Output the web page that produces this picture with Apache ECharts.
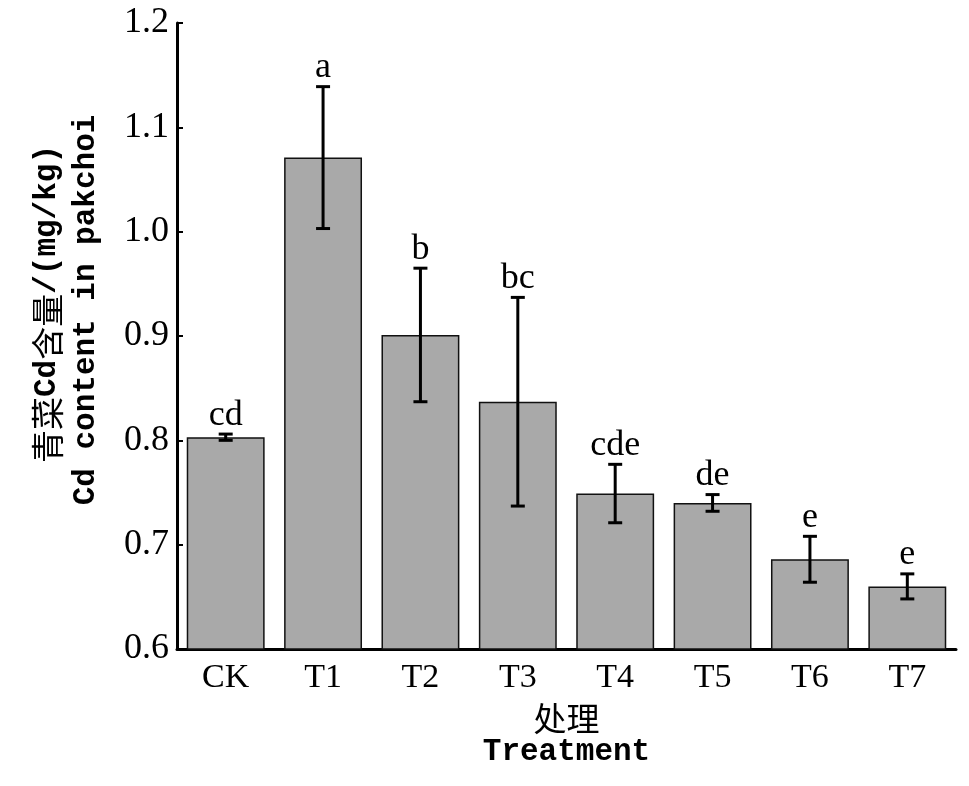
<!DOCTYPE html>
<html>
<head>
<meta charset="utf-8">
<script src="https://cdn.jsdelivr.net/npm/echarts@6/dist/echarts.min.js"></script>
<style>
html,body{margin:0;padding:0;background:#fff;}
#chart{width:969px;height:786px;}
</style>
</head>
<body>
<div id="chart"></div>
<script>
var categories = ['CK', 'T1', 'T2', 'T3', 'T4', 'T5', 'T6', 'T7'];
var means = [0.803, 1.071, 0.901, 0.837, 0.749, 0.740, 0.686, 0.660];
var errors = [0.003, 0.068, 0.064, 0.100, 0.028, 0.008, 0.022, 0.012];
var letters = ['cd', 'a', 'b', 'bc', 'cde', 'de', 'e', 'e'];
var yTitleParts = [['cn', '青菜'], ['en', 'Cd'], ['cn', '含量'], ['en', '/(mg/kg)']];
var yTitleEn = 'Cd content in pakchoi';
var xTitleCn = '处理';
var xTitleEn = 'Treatment';

var serif = '"Liberation Serif", "Times New Roman", serif';
var mono = '"Liberation Mono", monospace';
var cjk = '"Noto Sans CJK SC", sans-serif';

var richStyles = {
  cn: { fontFamily: cjk, fontSize: 33, fontWeight: 'normal', color: '#000', fill: '#000' },
  en: { fontFamily: mono, fontSize: 31, fontWeight: 'bold', color: '#000', fill: '#000' }
};
var yTitleCn = yTitleParts.map(function (p) { return '{' + p[0] + '|' + p[1] + '}'; }).join('');

var errData = categories.map(function (c, i) { return [i, means[i], errors[i], letters[i]]; });

var chart = echarts.init(document.getElementById('chart'));
chart.setOption({
  backgroundColor: '#fff',
  animation: false,
  grid: { left: 177, right: 13, top: 23, bottom: 137 },
  xAxis: {
    type: 'category',
    data: categories,
    name: '{cn|' + xTitleCn + '}\n{en|' + xTitleEn + '}',
    nameLocation: 'middle',
    nameGap: 52,
    nameTextStyle: {
      color: '#000', lineHeight: 34,
      rich: {
        cn: { fontFamily: cjk, fontSize: 33, color: '#000', lineHeight: 34 },
        en: { fontFamily: mono, fontSize: 31, fontWeight: 'bold', color: '#000', lineHeight: 34 }
      }
    },
    axisLine: { lineStyle: { color: '#000', width: 3 } },
    axisTick: { inside: true, length: 5, lineStyle: { color: '#000', width: 2 } },
    axisLabel: { fontFamily: serif, fontSize: 34, color: '#000', margin: 12 }
  },
  yAxis: {
    type: 'value',
    min: 0.6, max: 1.2, interval: 0.1,
    splitLine: { show: false },
    axisLine: { show: true, lineStyle: { color: '#000', width: 3 } },
    axisTick: { show: true, inside: true, length: 6, lineStyle: { color: '#000', width: 2 } },
    axisLabel: { fontFamily: serif, fontSize: 36, color: '#000', margin: 8,
      formatter: function (v) { return v.toFixed(1); } }
  },
  graphic: [
    { type: 'text', x: 47, y: 304, rotation: Math.PI / 2,
      style: { text: yTitleCn, rich: richStyles, fill: '#000', textAlign: 'center', textVerticalAlign: 'middle' } },
    { type: 'text', x: 86, y: 310, rotation: Math.PI / 2,
      style: { text: yTitleEn, fontFamily: mono, fontSize: 31, fontWeight: 'bold', fill: '#000', textAlign: 'center', textVerticalAlign: 'middle' } }
  ],
  series: [
    {
      type: 'bar',
      data: means,
      barCategoryGap: '20%',
      itemStyle: { color: '#a9a9a9', borderColor: '#111', borderWidth: 1.5 },
      z: 2
    },
    {
      type: 'custom',
      data: errData,
      z: 5,
      renderItem: function (params, api) {
        var i = api.value(0), m = api.value(1), e = api.value(2);
        var top = api.coord([i, m + e]);
        var bot = api.coord([i, m - e]);
        var x = top[0], hw = 7;
        var ls = { stroke: '#000', lineWidth: 3 };
        return {
          type: 'group',
          children: [
            { type: 'line', shape: { x1: x, y1: top[1], x2: x, y2: bot[1] }, style: ls },
            { type: 'line', shape: { x1: x - hw, y1: top[1], x2: x + hw, y2: top[1] }, style: ls },
            { type: 'line', shape: { x1: x - hw, y1: bot[1], x2: x + hw, y2: bot[1] }, style: ls },
            { type: 'text', x: x, y: top[1] - 1,
              style: { text: letters[params.dataIndex], fontFamily: serif, fontSize: 36, fill: '#000',
                       textAlign: 'center', textVerticalAlign: 'bottom' } }
          ]
        };
      }
    }
  ]
});
</script>
</body>
</html>
